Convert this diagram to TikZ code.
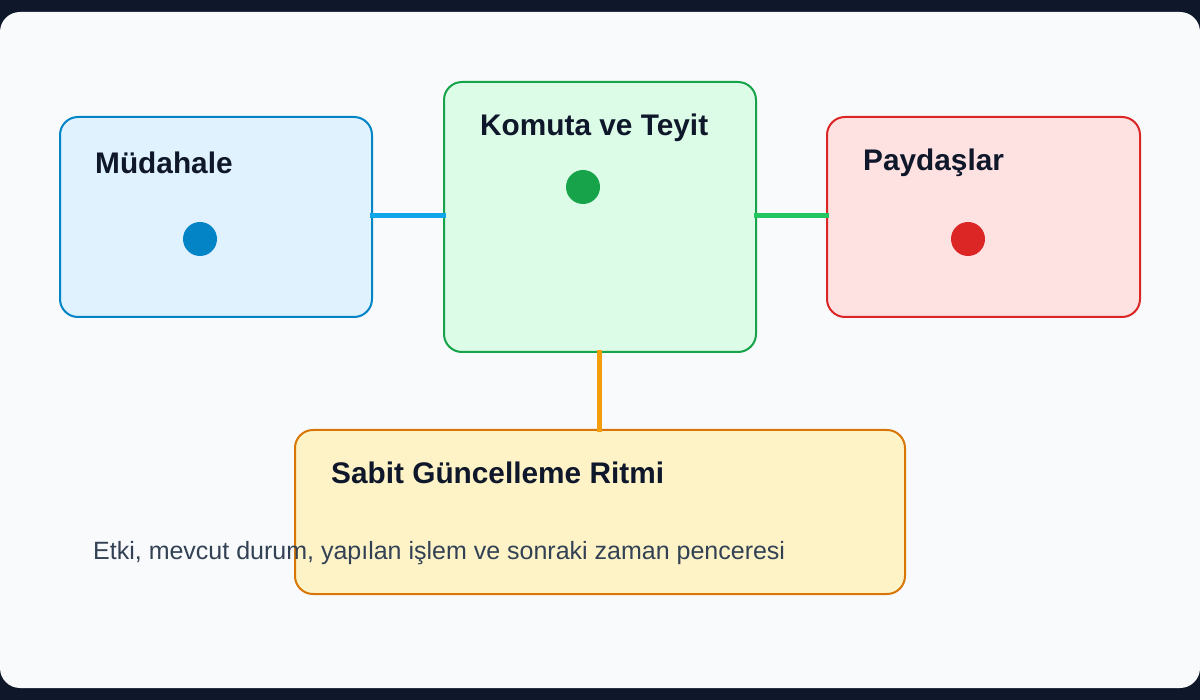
\documentclass[tikz,border=0pt]{standalone}
\usepackage{fontspec}
\setmainfont{Liberation Sans}
\definecolor{bgdark}{HTML}{0F172A}
\definecolor{panel}{HTML}{F8FAFC}
\definecolor{bfill}{HTML}{E0F2FE}\definecolor{bline}{HTML}{0284C7}
\definecolor{gfill}{HTML}{DCFCE7}\definecolor{gline}{HTML}{16A34A}
\definecolor{rfill}{HTML}{FEE2E2}\definecolor{rline}{HTML}{DC2626}
\definecolor{yfill}{HTML}{FEF3C7}\definecolor{yline}{HTML}{D97706}
\definecolor{cblue}{HTML}{0EA5E9}\definecolor{cgreen}{HTML}{22C55E}\definecolor{corange}{HTML}{F59E0B}
\definecolor{ttl}{HTML}{0F172A}\definecolor{body}{HTML}{334155}
\begin{document}
\begin{tikzpicture}[x=1pt,y=-1pt,
  card/.style={draw=#1,line width=2pt,rounded corners=18pt},
  ttlt/.style={anchor=west,font=\bfseries\fontsize{29.8}{34}\selectfont,text=ttl,inner sep=0},
  conn/.style={line width=5pt,draw=#1}]
\useasboundingbox (0,0) rectangle (1200,700);
\fill[bgdark] (0,0) rectangle (1200,700);
\fill[panel,rounded corners=20pt] (0,12) rectangle (1200,688);
\filldraw[card=bline,fill=bfill] (60,117) rectangle (372,317);
\filldraw[card=gline,fill=gfill] (444,82) rectangle (756,352);
\filldraw[card=rline,fill=rfill] (827,117) rectangle (1140,317);
\filldraw[card=yline,fill=yfill] (295,430) rectangle (905,594);
\coordinate (ml) at (370,216); \coordinate (kl) at (446,216);
\coordinate (kr) at (754,216); \coordinate (pl) at (829,216);
\coordinate (kb) at (599,350); \coordinate (st) at (599,432);
\draw[conn=cblue] (ml) -- (kl);
\draw[conn=cgreen] (kr) -- (pl);
\draw[conn=corange] (kb) -- (st);
\node[ttlt] (t1) at (95,163) {Müdahale};
\node[ttlt] (t2) at (480,128) {Komuta ve Teyit};
\node[ttlt] (t3) at (863,163) {Paydaşlar};
\node[ttlt] (t4) at (331,473) {Sabit Güncelleme Ritmi};
\fill[bline] (200,239) circle (17);
\fill[gline] (583,187) circle (17);
\fill[rline] (968,239) circle (17);
\node[anchor=west,inner sep=0,text=body,font=\fontsize{25}{29}\selectfont] (d) at (93,553) {Etki, mevcut durum, yapılan işlem ve sonraki zaman penceresi};
\end{tikzpicture}
\end{document}
